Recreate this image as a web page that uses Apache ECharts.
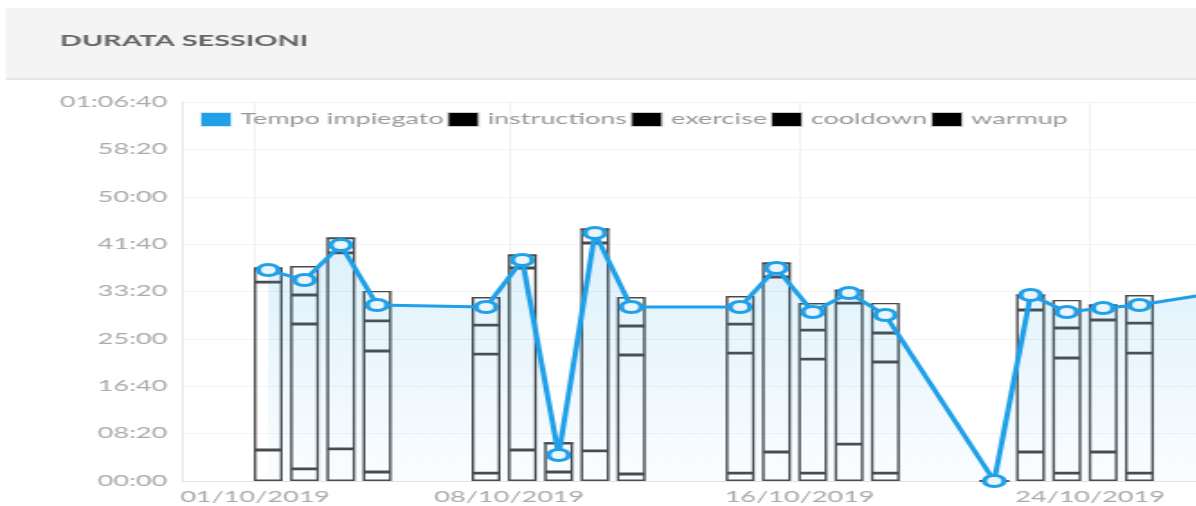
<!DOCTYPE html>
<html><head><meta charset="utf-8">
<script src="https://cdn.jsdelivr.net/npm/echarts@6/dist/echarts.min.js"></script>
<style>
html,body{margin:0;padding:0;background:#fff;overflow:hidden;}
#wrap{width:1196px;height:506px;overflow:hidden;position:relative;}
#chart{width:730px;height:506px;transform:scaleX(1.8);transform-origin:0 0;}
</style></head><body><div id="wrap"><div id="chart"></div></div>
<script>
// Session dates (each session around 08:40)
const sessionDates = ['2019-10-01','2019-10-02','2019-10-03','2019-10-04','2019-10-07','2019-10-08','2019-10-09','2019-10-10','2019-10-11','2019-10-14','2019-10-15','2019-10-16','2019-10-17','2019-10-18','2019-10-21','2019-10-22','2019-10-23','2019-10-24','2019-10-25','2019-10-28'];
// values in seconds
const tempoImpiegato = [2227,2121,2491,1857,1836,2332,274,2617,1836,1836,2248,1784,1984,1752,0,1963,1784,1826,1857,2040];
const instructions   = [327,127,338,95,84,327,95,317,74,84,306,84,390,84,0,306,84,306,84,null];
const exercise       = [1773,1530,2069,1277,1256,1921,306,2195,1256,1266,1847,1203,1488,1172,0,1499,1214,1393,1266,null];
const cooldown       = [148,306,158,317,306,137,0,148,306,306,148,306,137,306,0,158,317,158,317,null];
const warmup         = [0,306,0,317,296,0,0,0,306,296,0,285,0,317,0,0,296,0,296,null];
const xTickDates = ['2019-10-01','2019-10-08','2019-10-16','2019-10-24'];
const axisStart = '2019-09-29', axisEnd = '2019-10-29';

function toTs(d, hm){ const p=d.split('-').map(Number); const t=(hm||'00:00').split(':').map(Number); return new Date(p[0],p[1]-1,p[2],t[0],t[1]).getTime(); }
const pad = n => String(n).padStart(2,'0');
function fmtDur(v){ const h=Math.floor(v/3600), m=Math.floor(v%3600/60), s=Math.round(v%60); return h>0 ? pad(h)+':'+pad(m)+':'+pad(s) : pad(m)+':'+pad(s); }
function fmtDate(v){ const d=new Date(v); return pad(d.getDate())+'/'+pad(d.getMonth()+1)+'/'+d.getFullYear(); }

const xs = sessionDates.map(d => toTs(d,'08:40'));
const FONT = 'Lato';
const barStyle = { color:'rgba(0,0,0,0)', borderColor:'#4a4a4a', borderWidth:1.4 };
function barSeries(name, arr){
  // value column first so that the stack is computed on the duration dimension
  return { name, type:'bar', stack:'s', barWidth:16, z:2,
    encode:{x:1, y:0},
    data: xs.map((x,i)=>[arr[i], x]), itemStyle: barStyle, emphasis:{disabled:true} };
}
const tickTs = xTickDates.map(d=>toTs(d));
const xMin = toTs(axisStart), xMax = toTs(axisEnd);

const chart = echarts.init(document.getElementById('chart'), null, {renderer:'canvas'});
chart.setOption({
  animation:false,
  backgroundColor:'#fff',
  textStyle:{fontFamily:FONT},
  graphic:[
    {type:'rect', left:3.3, top:8, shape:{width:760, height:70}, style:{fill:'#f4f4f4'}, z:0},
    {type:'rect', left:3.3, top:78, shape:{width:760, height:2}, style:{fill:'#e6e6e6'}, z:0},
    {type:'text', left:33.3, top:33, style:{text:'DURATA SESSIONI', fill:'#666', font:'bold 16px Lato'}, z:1}
  ],
  legend:{
    left:111, top:112, padding:0, itemWidth:17, itemHeight:14, itemGap:2, icon:'rect',
    textStyle:{color:'#999', fontSize:15, fontFamily:FONT},
    selectedMode:false,
    data:[
      {name:'Tempo impiegato', itemStyle:{color:'#1fa0e8', borderColor:'#d8e6ee', borderWidth:1}},
      {name:'instructions', itemStyle:{color:'#000', borderColor:'#ccc', borderWidth:1}},
      {name:'exercise', itemStyle:{color:'#000', borderColor:'#ccc', borderWidth:1}},
      {name:'cooldown', itemStyle:{color:'#000', borderColor:'#ccc', borderWidth:1}},
      {name:'warmup', itemStyle:{color:'#000', borderColor:'#ccc', borderWidth:1}}
    ]
  },
  grid:{left:101.4, top:102, width:605, height:379, containLabel:false},
  xAxis:{
    type:'value', min:xMin, max:xMax, scale:true,
    axisLine:{show:true, onZero:false, lineStyle:{color:'#e2e2e2', width:1}},
    axisTick:{show:false, customValues: tickTs},
    axisLabel:{customValues: tickTs, formatter: v=>fmtDate(v), color:'#aaa', fontSize:15, fontFamily:FONT, margin:9},
    splitLine:{show:true, lineStyle:{color:'#f2f2f2', width:1}}
  },
  yAxis:{
    type:'value', min:0, max:4000, interval:500,
    axisLine:{show:true, lineStyle:{color:'#e6e6e6'}},
    axisTick:{show:false},
    axisLabel:{formatter: v=>fmtDur(v), color:'#aaa', fontSize:15, fontFamily:FONT, margin:8.5},
    splitLine:{show:true, lineStyle:{color:'#f3f3f3'}}
  },
  series:[
    { name:'Tempo impiegato', type:'line', z:5, data: xs.map((x,i)=>[x, tempoImpiegato[i]]),
      symbol:'circle', symbolSize:11, showSymbol:true, clip:false,
      lineStyle:{color:'#1fa0e8', width:3},
      itemStyle:{color:'#eaf5fc', borderColor:'#1fa0e8', borderWidth:3},
      areaStyle:{origin:'start', color:new echarts.graphic.LinearGradient(0,0,0,1,[{offset:0,color:'rgba(31,160,232,0.22)'},{offset:1,color:'rgba(31,160,232,0.03)'}])},
      emphasis:{disabled:true}
    },
    barSeries('instructions', instructions),
    barSeries('exercise', exercise),
    barSeries('cooldown', cooldown),
    barSeries('warmup', warmup)
  ]
});
</script></body></html>
